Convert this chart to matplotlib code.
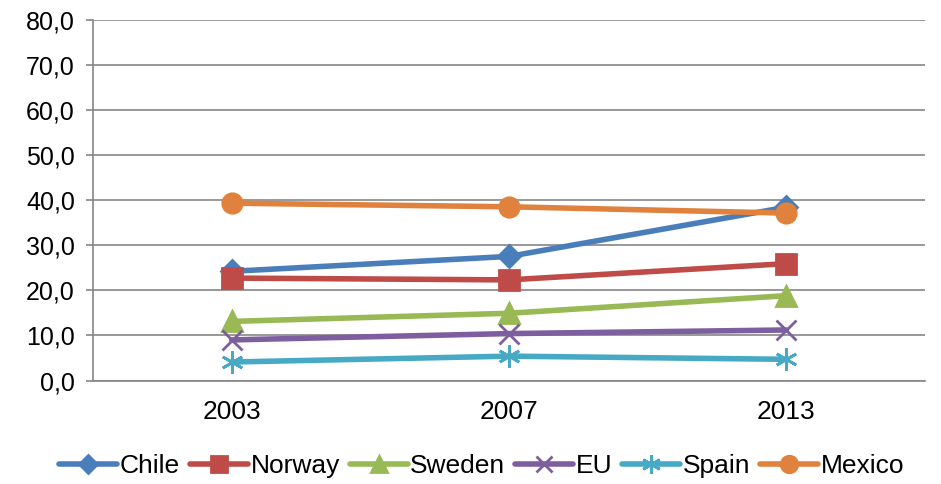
import matplotlib.pyplot as plt
from matplotlib.ticker import FuncFormatter

plt.rcParams['font.family'] = ['Liberation Sans', 'DejaVu Sans']

years = ['2003', '2007', '2013']
chile = [24.2, 27.5, 38.4]
norway = [22.7, 22.3, 25.9]
sweden = [13.1, 14.9, 18.8]
eu = [9.0, 10.4, 11.2]
spain = [4.1, 5.4, 4.7]
mexico = [39.3, 38.5, 37.1]

series = [
    ('Chile', chile, '#4A7EBB', 'D', 11),
    ('Norway', norway, '#BE4B48', 's', 14),
    ('Sweden', sweden, '#98B954', '^', 14),
    ('EU', eu, '#7D5FA0', 'x', 14),
    ('Spain', spain, '#46AAC5', (6, 2, 0), 16),
    ('Mexico', mexico, '#E0823D', 'o', 14),
]

fig = plt.figure(figsize=(9.41, 4.84), dpi=100)
ax = fig.add_axes([0.0988, 0.2138, 0.8842, 0.7459])

x = range(len(years))
for name, vals, color, marker, ms in series:
    ax.plot(x, vals, color=color, lw=4, marker=marker, markersize=ms,
            markeredgecolor=color, markerfacecolor=color, markeredgewidth=2,
            label=name, solid_capstyle='round')

ax.set_xlim(-0.5, 2.5)
ax.set_ylim(0, 80)
ax.set_yticks(range(0, 81, 10))
ax.yaxis.set_major_formatter(FuncFormatter(lambda v, p: f'{v:.1f}'.replace('.', ',')))
ax.set_xticks(list(x))
ax.set_xticklabels(years)
ax.tick_params(axis='x', length=0, pad=14, labelsize=19)
ax.tick_params(axis='y', length=5, width=1.2, color='#868686', pad=8, labelsize=18)
ax.grid(axis='y', color='#868686', lw=1.2)
ax.set_axisbelow(True)
for s in ['top', 'right']:
    ax.spines[s].set_visible(False)
for s in ['left', 'bottom']:
    ax.spines[s].set_color('#868686')
    ax.spines[s].set_linewidth(1.2)

handles, labels = ax.get_legend_handles_labels()
fig.legend(handles, labels, loc='center', bbox_to_anchor=(0.512, 0.037), ncol=6,
           frameon=False, fontsize=19, handlelength=2.2, handletextpad=0.1,
           columnspacing=0.37, markerscale=0.85, borderpad=0)

fig.savefig('out.png')
